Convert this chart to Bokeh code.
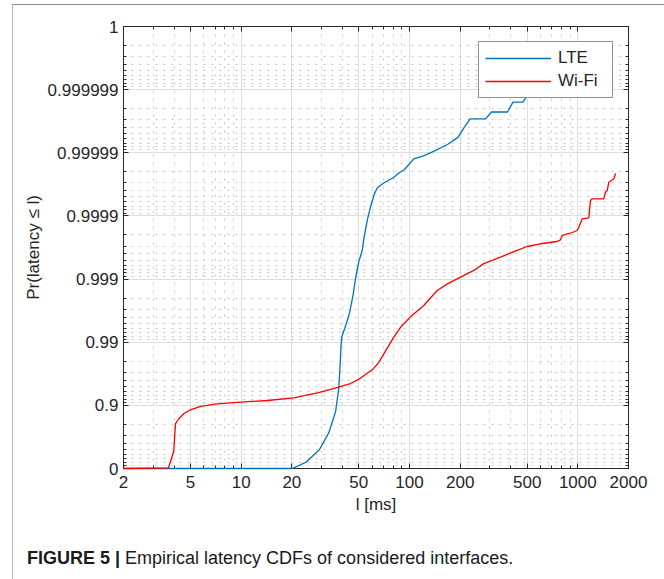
from bokeh.plotting import figure
from bokeh.models import FixedTicker, Range1d, LogAxis, BasicTickFormatter, Div
from bokeh.layouts import column
from bokeh.embed import file_html
from bokeh.resources import INLINE

# ---- data ----
# y values are tail probabilities 1 - Pr(latency <= l), drawn on a reversed log scale
lte_latency_ms = [2, 20, 22.0, 24.4, 29.2, 33.2, 36.4, 38.0, 38.7, 39.2, 39.7, 42.0, 44.0, 46.2, 47.8,
                  50.0, 52.4, 53.7, 56.1, 58.7, 62.0, 64.6, 71.1, 80.4, 87.3, 93.4, 106, 121, 139,
                  168, 194, 211, 229, 283, 307, 382, 412, 472, 499, 560]
lte_tail = [1, 1, 0.90, 0.79, 0.50, 0.27, 0.125, 0.054, 0.0234, 0.0113, 0.0081, 0.0052, 0.0035, 0.0018,
            0.00098, 0.00053, 0.00035, 0.00022, 0.000118, 7.1e-5, 4.4e-5, 3.55e-5, 2.95e-5, 2.46e-5,
            2.05e-5, 1.84e-5, 1.25e-5, 1.12e-5, 9.5e-6, 7.4e-6, 5.7e-6, 4.0e-6, 2.9e-6, 2.9e-6,
            2.26e-6, 2.26e-6, 1.58e-6, 1.58e-6, 1.24e-6, 9.6e-7]

wifi_latency_ms = [2, 3.7, 3.89, 3.98, 4.07, 4.26, 4.56, 5.0, 5.74, 7.2, 9.9, 14.3, 20.5, 28.8, 38.0,
                   44.6, 50.5, 60.3, 65.5, 71.1, 80.7, 88.5, 101, 122, 146, 168, 201, 241, 276, 347,
                   436, 500, 600, 754, 789, 807, 904, 991, 1014, 1062, 1162, 1189, 1217, 1426, 1459,
                   1495, 1528, 1636, 1675]
wifi_tail = [1, 0.98, 0.645, 0.52, 0.196, 0.163, 0.136, 0.1175, 0.104, 0.0944, 0.0891, 0.0838, 0.0759,
             0.0626, 0.0516, 0.0451, 0.0380, 0.0271, 0.0210, 0.0146, 0.0083, 0.0058, 0.0040, 0.0026,
             0.00152, 0.00119, 0.00093, 0.00073, 0.00057, 0.00045, 0.00035, 0.000305, 0.000276,
             0.000254, 0.000239, 0.000204, 0.000188, 0.000170, 0.000151, 0.000111, 0.000107, 5.7e-5,
             5.36e-5, 5.36e-5, 4.21e-5, 3.96e-5, 2.92e-5, 2.58e-5, 2.13e-5]

x_ticks = [2, 5, 10, 20, 50, 100, 200, 500, 1000, 2000]
x_tick_labels = ["2", "5", "10", "20", "50", "100", "200", "500", "1000", "2000"]
y_ticks = [1, 0.1, 0.01, 0.001, 1e-4, 1e-5, 1e-6, 1e-7]
y_tick_labels = ["0", "0.9", "0.99", "0.999", "0.9999", "0.99999", "0.999999", "1"]

x_minor = [m * 10 ** e for e in range(0, 4) for m in range(2, 10)]
x_minor = [v for v in x_minor if 2 <= v <= 2000 and v not in x_ticks]
y_minor = [m * 10.0 ** (-e) for e in range(1, 8) for m in range(2, 10)]

caption_bold = "FIGURE 5 |"
caption_text = "Empirical latency CDFs of considered interfaces."

FONT = "Liberation Sans"
INK = "#262626"

p = figure(frame_width=505, frame_height=442,
           min_border_left=110, min_border_right=29, min_border_top=21, min_border_bottom=62,
           x_axis_type="log", y_axis_type="log",
           x_range=Range1d(2, 2000), y_range=Range1d(1, 1e-7),
           output_backend="svg", toolbar_location=None,
           background_fill_color="white", border_fill_color="white")
p.outline_line_color = INK

xticker = FixedTicker(ticks=x_ticks, minor_ticks=x_minor)
yticker = FixedTicker(ticks=y_ticks, minor_ticks=y_minor)


def style_axis(ax, ticker, labels, ticks, show_labels=True):
    ax.ticker = ticker
    ax.formatter = BasicTickFormatter(use_scientific=False)
    ax.major_label_overrides = {t: l for t, l in zip(ticks, labels)}
    ax.axis_line_color = INK
    ax.major_tick_line_color = INK
    ax.minor_tick_line_color = INK
    ax.major_tick_in = 5
    ax.major_tick_out = 0
    ax.minor_tick_in = 3
    ax.minor_tick_out = 0
    ax.major_label_text_font = FONT
    ax.major_label_text_color = INK
    ax.axis_label_text_font = FONT
    ax.axis_label_text_font_style = "normal"
    ax.axis_label_text_color = INK
    if show_labels:
        ax.major_label_text_font_size = "17px"
        ax.axis_label_text_font_size = "17px"
    else:
        # mirror axis (MATLAB "box on"): ticks only, labels not drawn
        ax.major_label_text_font_size = "1px"
        ax.major_label_text_color = None
        ax.major_label_standoff = 0


style_axis(p.xaxis[0], xticker, x_tick_labels, x_ticks)
p.xaxis[0].major_label_standoff = 7
p.xaxis[0].axis_label = "l [ms]"
p.xaxis[0].axis_label_standoff = 4

style_axis(p.yaxis[0], yticker, y_tick_labels, y_ticks)
p.yaxis[0].major_label_standoff = 5
p.yaxis[0].axis_label = "Pr(latency \u2264 l)"
p.yaxis[0].axis_label_standoff = 2

top_ax = LogAxis()
style_axis(top_ax, xticker, x_tick_labels, x_ticks, show_labels=False)
p.add_layout(top_ax, "above")
right_ax = LogAxis()
style_axis(right_ax, yticker, y_tick_labels, y_ticks, show_labels=False)
p.add_layout(right_ax, "right")

for g, t in ((p.xgrid[0], xticker), (p.ygrid[0], yticker)):
    g.ticker = t
    g.grid_line_color = "#dedede"
    g.grid_line_width = 1
    g.minor_grid_line_color = "#c6c6c6"
    g.minor_grid_line_dash = "2 6"
    g.minor_grid_line_width = 1

r1 = p.line(lte_latency_ms, lte_tail, line_color="#0072BD", line_width=1.3, legend_label="LTE")
r2 = p.line(wifi_latency_ms, wifi_tail, line_color="#FF0000", line_width=1.3, legend_label="Wi-Fi")
r1.level = "overlay"
r2.level = "overlay"

lg = p.legend[0]
lg.location = "top_right"
lg.margin = 15
lg.padding = 6
lg.spacing = 3
lg.glyph_width = 66
lg.glyph_height = 20
lg.label_height = 20
lg.label_width = 48
lg.label_standoff = 7
lg.label_text_font = FONT
lg.label_text_font_size = "17px"
lg.label_text_color = INK
lg.border_line_color = INK
lg.border_line_width = 1
lg.background_fill_color = "white"
lg.background_fill_alpha = 1.0
lg.level = "overlay"

cap = Div(text=('<div style="padding:12px 0 0 9px; font-family:\'Liberation Sans\', sans-serif; '
                'font-size:18px; line-height:22px; color:#1a1a1a; white-space:nowrap;">'
                '<b>' + caption_bold + '</b> ' + caption_text + '</div>'),
          width=644, height=49)

layout = column(p, cap, spacing=0, margin=(4, 0, 0, 12),
                styles={"border-left": "1px solid #bdbdbd", "border-right": "1px solid #bdbdbd",
                        "border-top": "1px solid #8a8a8a", "background-color": "white"})

open("out.html", "w").write(file_html(layout, INLINE))
